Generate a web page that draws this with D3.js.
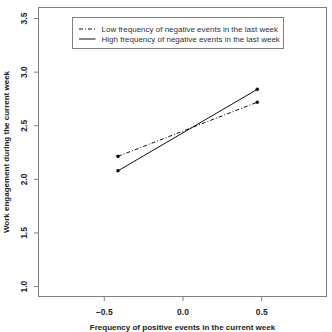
<!DOCTYPE html>
<html>
<head>
<meta charset="utf-8">
<script src="https://cdn.jsdelivr.net/npm/d3@7"></script>
<style>
  body { margin: 0; background: #fff; }
  svg { display: block; font-family: "Liberation Sans", Arial, sans-serif; }
</style>
</head>
<body>
<svg id="chart" width="332" height="332"></svg>
<script>
// simple slopes, values
const xLevels = [-0.41, 0.475];
const lowNeg = [2.21, 2.715];
const highNeg = [2.075, 2.835];
const seriesNames = [
  "Low frequency of negative events in the last week",
  "High frequency of negative events in the last week"
];
const xTicks = [-0.5, 0.0, 0.5];
const yTicks = [1.0, 1.5, 2.0, 2.5, 3.0, 3.5];

const W = 332, H = 332;
const PADDING = { top: 7, right: 5, bottom: 35, left: 38 };

const svg = d3.select("#chart");

const xscale = d3.scaleLinear().domain([-0.918, 0.918]).range([PADDING.left, W - PADDING.right]);
const yscale = d3.scaleLinear().domain([0.898, 3.603]).range([H - PADDING.bottom, PADDING.top]);

// box
svg.append("rect")
    .attr("x", PADDING.left + 0.5)
    .attr("y", PADDING.top + 0.5)
    .attr("width", W - PADDING.left - PADDING.right - 1)
    .attr("height", H - PADDING.top - PADDING.bottom - 1)
    .attr("fill", "none")
    .attr("stroke", "#808080")
    .attr("stroke-width", 1);

const xaxis = d3.axisBottom(xscale).tickValues(xTicks).tickSize(4).tickPadding(8).tickFormat(d3.format(".1f"));
const yaxis = d3.axisLeft(yscale).tickValues(yTicks).tickSize(4).tickPadding(7).tickFormat(d3.format(".1f"));

const gx = svg.append("g")
    .attr("transform", `translate(0,${H - PADDING.bottom})`)
    .call(xaxis);
const gy = svg.append("g")
    .attr("transform", `translate(${PADDING.left},0)`)
    .call(yaxis);

[gx, gy].forEach(g => {
    g.select(".domain").remove();
    g.selectAll(".tick line").attr("stroke", "#808080");
    g.selectAll(".tick text")
        .attr("fill", "#222")
        .style("font-size", "8.5px")
        .style("font-weight", "bold")
        .style("font-family", "'Liberation Sans', Arial, sans-serif");
});

gy.selectAll(".tick text")
    .attr("text-anchor", "middle")
    .attr("transform", "translate(-14,0) rotate(-90)")
    .attr("x", 0)
    .attr("dy", "0.35em");

// axis titles
svg.append("text")
    .attr("x", xscale(0))
    .attr("y", 330)
    .attr("text-anchor", "middle")
    .style("font-size", "8px")
    .style("font-weight", "bold")
    .attr("fill", "#222")
    .text("Frequency of positive events in the current week");

svg.append("text")
    .attr("transform", `translate(9,${(PADDING.top + H - PADDING.bottom) / 2}) rotate(-90)`)
    .attr("text-anchor", "middle")
    .style("font-size", "8px")
    .style("font-weight", "bold")
    .attr("fill", "#222")
    .text("Work engagement during the current week");

// lines
const series = [
    { name: seriesNames[0], values: lowNeg, dash: "4,2,1,2" },
    { name: seriesNames[1], values: highNeg, dash: null }
];

const line = d3.line()
    .x(d => xscale(d[0]))
    .y(d => yscale(d[1]));

series.forEach(s => {
    const pts = xLevels.map((x, i) => [x, s.values[i]]);
    svg.append("path")
        .datum(pts)
        .attr("fill", "none")
        .attr("stroke", "#111")
        .attr("stroke-width", 1)
        .attr("stroke-dasharray", s.dash)
        .attr("d", line);
    svg.selectAll(null)
        .data(pts)
        .enter()
        .append("circle")
        .attr("cx", d => xscale(d[0]))
        .attr("cy", d => yscale(d[1]))
        .attr("r", 1.8)
        .attr("fill", "#111");
});

// legend
const legend = svg.append("g").attr("transform", "translate(72.5,17.5)");
legend.append("rect")
    .attr("width", 211)
    .attr("height", 31)
    .attr("fill", "#fff")
    .attr("stroke", "#808080");
series.forEach((s, i) => {
    const y = 11.5 + i * 10;
    legend.append("line")
        .attr("x1", 6.5).attr("x2", 23)
        .attr("y1", y).attr("y2", y)
        .attr("stroke", "#111")
        .attr("stroke-dasharray", s.dash);
    legend.append("text")
        .attr("x", 29)
        .attr("y", y)
        .attr("dy", "0.35em")
        .style("font-size", "8px")
        .attr("fill", "#333")
        .text(s.name);
});
</script>
</body>
</html>
